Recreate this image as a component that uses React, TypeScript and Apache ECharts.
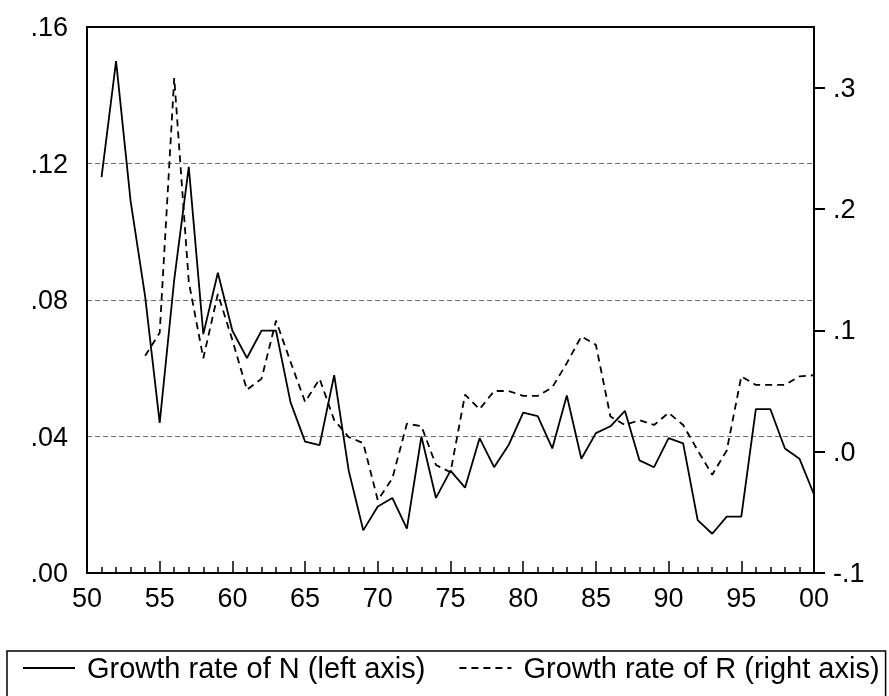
import React, { useEffect, useRef } from "react";
import * as echarts from "echarts";

// Years for each series
const yearsN: number[] = [
  1951, 1952, 1953, 1954, 1955, 1956, 1957, 1958, 1959, 1960,
  1961, 1962, 1963, 1964, 1965, 1966, 1967, 1968, 1969, 1970,
  1971, 1972, 1973, 1974, 1975, 1976, 1977, 1978, 1979, 1980,
  1981, 1982, 1983, 1984, 1985, 1986, 1987, 1988, 1989, 1990,
  1991, 1992, 1993, 1994, 1995, 1996, 1997, 1998, 1999, 2000,
];
// Growth rate of N (left axis)
const growthN: number[] = [
  0.116, 0.150, 0.109, 0.081, 0.044, 0.086, 0.119, 0.070, 0.088, 0.071,
  0.063, 0.071, 0.071, 0.050, 0.0385, 0.0375, 0.058, 0.030, 0.0125, 0.0195,
  0.022, 0.013, 0.040, 0.022, 0.030, 0.025, 0.0395, 0.031, 0.0375, 0.047,
  0.046, 0.0365, 0.052, 0.0335, 0.041, 0.043, 0.0475, 0.033, 0.031, 0.0395,
  0.038, 0.0155, 0.0115, 0.0165, 0.0165, 0.048, 0.048, 0.0365, 0.0335, 0.023,
];

const yearsR: number[] = [
  1954, 1955, 1956, 1957, 1958, 1959, 1960,
  1961, 1962, 1963, 1964, 1965, 1966, 1967, 1968, 1969, 1970,
  1971, 1972, 1973, 1974, 1975, 1976, 1977, 1978, 1979, 1980,
  1981, 1982, 1983, 1984, 1985, 1986, 1987, 1988, 1989, 1990,
  1991, 1992, 1993, 1994, 1995, 1996, 1997, 1998, 1999, 2000,
];
// Growth rate of R (right axis)
const growthR: number[] = [
  0.079, 0.098, 0.308, 0.140, 0.077, 0.130, 0.092,
  0.051, 0.060, 0.108, 0.074, 0.041, 0.060, 0.026, 0.012, 0.007, -0.040,
  -0.022, 0.023, 0.021, -0.011, -0.017, 0.047, 0.035, 0.050, 0.050, 0.046,
  0.046, 0.053, 0.073, 0.095, 0.088, 0.029, 0.022, 0.026, 0.022, 0.032,
  0.022, 0.001, -0.019, 0.001, 0.062, 0.055, 0.055, 0.055, 0.062, 0.063,
];

const rightTicks: number[] = [-0.1, 0, 0.1, 0.2, 0.3];
const seriesNames: string[] = [
  "Growth rate of N (left axis)",
  "Growth rate of R (right axis)",
];

const FONT = "'Liberation Sans', Arial, Helvetica, sans-serif";

export default function App() {
  const ref = useRef<HTMLDivElement>(null);

  useEffect(() => {
    if (!ref.current) return;
    const chart = echarts.init(ref.current, undefined, { renderer: "svg" });
    const option: any = {
      animation: false,
      grid: {
        left: 87,
        right: 75,
        top: 27,
        bottom: 123,
        outerBoundsMode: "none",
        show: true,
        borderColor: "#000",
        borderWidth: 2,
      },
      legend: {
        left: 7,
        top: 651,
        orient: "horizontal",
        padding: [1, 6, 24, 15],
        itemGap: 33,
        itemWidth: 52,
        itemHeight: 14,
        borderColor: "#000",
        borderWidth: 1.5,
        borderRadius: 0,
        selectedMode: false,
        itemStyle: { opacity: 0 },
        textStyle: {
          fontFamily: FONT,
          fontSize: 29,
          color: "#000",
          lineHeight: 32,
          padding: [0, 0, 0, 7],
        },
        data: seriesNames,
      },
      xAxis: {
        type: "value",
        min: 1950,
        max: 2000,
        interval: 5,
        axisLine: { show: true, lineStyle: { color: "#000", width: 2 } },
        axisTick: {
          show: true,
          inside: true,
          length: 12,
          lineStyle: { color: "#000", width: 1.5 },
        },
        minorTick: {
          show: true,
          splitNumber: 5,
          length: 6,
          lineStyle: { color: "#000", width: 1.5 },
        },
        splitLine: { show: false },
        axisLabel: {
          color: "#000",
          fontSize: 27,
          fontFamily: FONT,
          margin: 11,
          formatter: (v: number) => String(Math.round(v) % 100).padStart(2, "0"),
        },
      },
      yAxis: [
        {
          type: "value",
          position: "left",
          min: 0,
          max: 0.16,
          interval: 0.04,
          axisLine: { show: true, lineStyle: { color: "#000", width: 2 } },
          axisTick: { show: false },
          splitLine: {
            show: true,
            showMinLine: false,
            showMaxLine: false,
            lineStyle: { color: "#6e6e6e", width: 1, type: [5, 3] },
          },
          axisLabel: {
            color: "#000",
            fontSize: 27,
            fontFamily: FONT,
            margin: 19,
            formatter: (v: number) => v.toFixed(2).replace(/^0/, ""),
          },
        },
        {
          type: "value",
          position: "right",
          min: -0.1,
          max: 0.35,
          axisLine: { show: true, lineStyle: { color: "#000", width: 2 } },
          axisTick: {
            show: true,
            length: 11,
            customValues: rightTicks,
            lineStyle: { color: "#000", width: 2 },
          },
          axisLabel: {
            margin: 19,
            fontSize: 27,
            color: "#000",
            customValues: rightTicks,
            formatter: (v: number) => {
              const r = Math.round(v * 10) / 10;
              const s = Math.abs(r).toFixed(1).replace(/^0/, "");
              return r < 0 ? "-" + s : s;
            },
          },
          splitLine: { show: false },
        },
      ],
      series: [
        {
          name: seriesNames[0],
          type: "line",
          yAxisIndex: 0,
          symbol: "none",
          data: yearsN.map((y, i) => [y, growthN[i]]),
          lineStyle: { color: "#000", width: 1.8, type: "solid" },
          itemStyle: { color: "#000" },
        },
        {
          name: seriesNames[1],
          type: "line",
          yAxisIndex: 1,
          symbol: "none",
          data: yearsR.map((y, i) => [y, growthR[i]]),
          lineStyle: { color: "#000", width: 1.8, type: [7, 5] },
          itemStyle: { color: "#000" },
        },
      ],
    };
    chart.setOption(option);
    return () => {
      chart.dispose();
    };
  }, []);

  return (
    <div
      ref={ref}
      style={{ position: "fixed", left: 0, top: 0, width: 889, height: 696 }}
    />
  );
}
